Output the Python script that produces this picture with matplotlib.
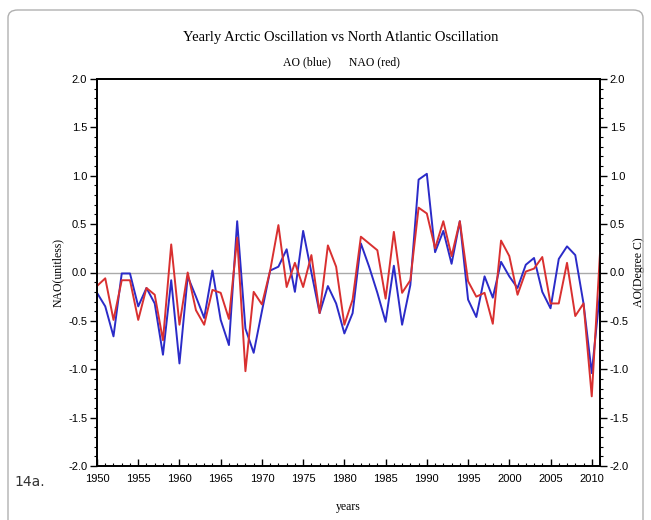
import numpy as np
import matplotlib
matplotlib.use("Agg")
import matplotlib.pyplot as plt
from matplotlib.patches import FancyBboxPatch
from matplotlib.ticker import MultipleLocator

years = list(range(1950, 2012))

# NAO (red)
nao = [-0.14, -0.06, -0.49, -0.08, -0.08, -0.49, -0.16, -0.23, -0.70, 0.29,
       -0.54, 0.00, -0.39, -0.54, -0.18, -0.21, -0.48, 0.36, -1.02, -0.20,
       -0.33, 0.02, 0.49, -0.15, 0.10, -0.15, 0.18, -0.42, 0.28, 0.06,
       -0.54, -0.28, 0.37, 0.30, 0.23, -0.27, 0.42, -0.21, -0.08, 0.67,
       0.61, 0.25, 0.53, 0.17, 0.53, -0.09, -0.25, -0.21, -0.53, 0.33,
       0.17, -0.23, 0.01, 0.04, 0.16, -0.32, -0.32, 0.10, -0.45, -0.32,
       -1.28, 0.20]

# AO (blue)
ao = [-0.21, -0.35, -0.66, -0.01, -0.01, -0.35, -0.16, -0.32, -0.85, -0.08,
      -0.94, -0.04, -0.25, -0.47, 0.02, -0.49, -0.75, 0.53, -0.58, -0.83,
      -0.40, 0.02, 0.06, 0.24, -0.20, 0.43, 0.00, -0.42, -0.14, -0.32,
      -0.63, -0.42, 0.30, 0.06, -0.21, -0.51, 0.07, -0.54, -0.13, 0.96,
      1.02, 0.21, 0.43, 0.09, 0.53, -0.28, -0.46, -0.04, -0.26, 0.11,
      -0.04, -0.16, 0.08, 0.15, -0.20, -0.37, 0.14, 0.27, 0.18, -0.32,
      -1.04, -0.20]

serif = "Liberation Serif"
sans = "Liberation Sans"

fig = plt.figure(figsize=(6.51, 5.2), dpi=100)

# rounded frame around the panel
frame = FancyBboxPatch((8 / 651, -0.1), 635 / 651, 1.1 - 10 / 520,
                       boxstyle="round,pad=0,rounding_size=0.015",
                       transform=fig.transFigure, fill=False,
                       edgecolor="#b0b0b0", linewidth=1.0)
fig.patches.append(frame)

ax = fig.add_axes([97 / 651, 54 / 520, 503 / 651, 387 / 520])
ax.axhline(0, color="#aaaaaa", linewidth=1.0, zorder=1)
ax.plot(years, nao, color="#d93030", linewidth=1.4, zorder=3)
ax.plot(years, ao, color="#2b2bc8", linewidth=1.4, zorder=2)

ax.set_xlim(1950, 2011)
ax.set_ylim(-2.0, 2.0)
ax.xaxis.set_major_locator(MultipleLocator(5))
ax.xaxis.set_minor_locator(MultipleLocator(1))
ax.yaxis.set_minor_locator(MultipleLocator(0.1))
yt = np.arange(-2.0, 2.01, 0.5)
ax.set_yticks(yt)
ax.set_yticklabels([f"{v:.1f}" for v in yt])

ax2 = ax.twinx()
ax2.set_ylim(-2.0, 2.0)
ax2.yaxis.set_minor_locator(MultipleLocator(0.1))
ax2.set_yticks(yt)
ax2.set_yticklabels([f"{v:.1f}" for v in yt])

for a in (ax, ax2):
    for s in a.spines.values():
        s.set_linewidth(1.3)
    a.tick_params(axis="y", which="major", direction="out", length=5, width=1.0,
                  labelsize=8, pad=2)
    a.tick_params(axis="y", which="minor", direction="out", length=2.5, width=0.8)
    for lbl in a.get_yticklabels():
        lbl.set_family(sans)
ax.tick_params(axis="x", which="major", direction="in", length=5, width=1.0,
               labelsize=8, pad=6)
ax.tick_params(axis="x", which="minor", direction="in", length=2.5, width=0.8)
for lbl in ax.get_xticklabels():
    lbl.set_family(sans)

ax.set_ylabel("NAO(unitless)", family=serif, fontsize=8.5, labelpad=3)
ax2.set_ylabel("AO(Degree C)", family=serif, fontsize=8.5, labelpad=3,
               rotation=90)
ax.set_xlabel("years", family=serif, fontsize=8.5, labelpad=12)

fig.text(341 / 651, 1 - 38 / 520, "Yearly Arctic Oscillation vs North Atlantic Oscillation",
         family=serif, fontsize=10.5, ha="center", va="center")
fig.text(341 / 651, 1 - 62 / 520, "AO (blue)      NAO (red)",
         family=serif, fontsize=8.5, ha="center", va="center")
fig.text(14 / 651, 1 - 482 / 520, "14a.", family="DejaVu Sans", fontsize=10,
         ha="left", va="center", color="#333333")

fig.savefig("out.png", dpi=100)
